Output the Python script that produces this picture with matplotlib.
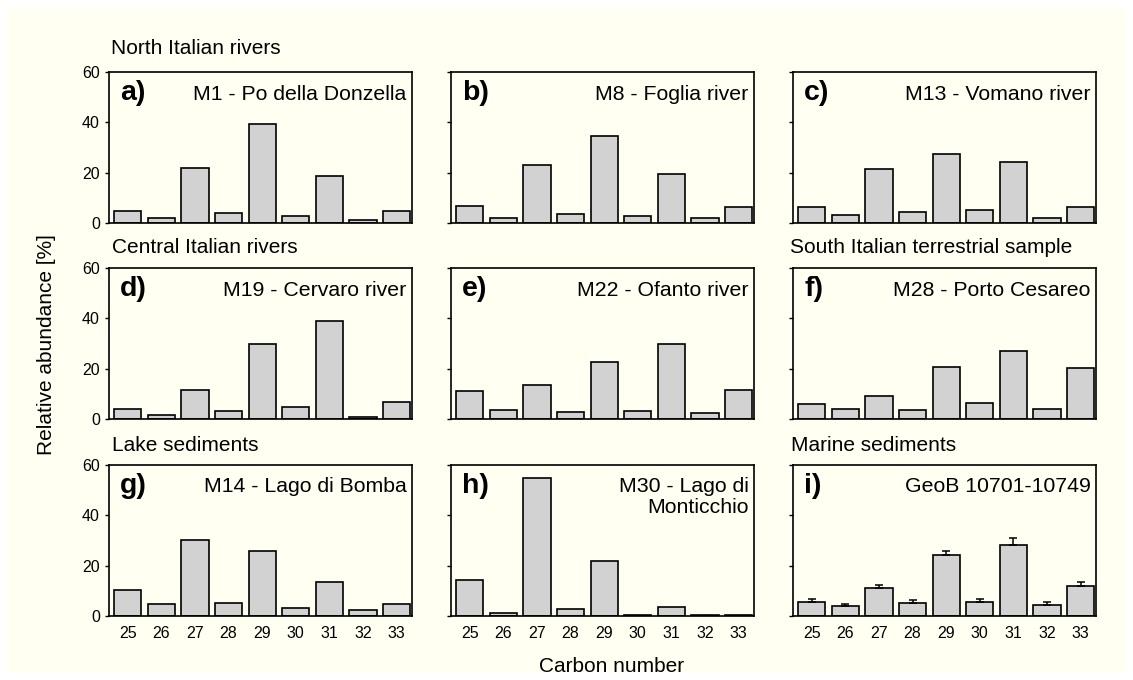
import numpy as np
import matplotlib
matplotlib.use('Agg')
import matplotlib.pyplot as plt
from matplotlib.patches import Rectangle

plt.rcParams['font.family'] = ['Liberation Sans', 'DejaVu Sans']

carbon = [25, 26, 27, 28, 29, 30, 31, 32, 33]

# relative abundance [%] per sample
m1 = [4.9, 2.1, 21.9, 3.9, 39.4, 2.8, 18.5, 1.3, 4.9]
m8 = [6.6, 2.0, 23.2, 3.5, 34.5, 2.8, 19.3, 2.0, 6.4]
m13 = [6.2, 3.3, 21.5, 4.5, 27.4, 5.0, 24.4, 2.0, 6.2]
m19 = [3.9, 1.4, 11.5, 3.1, 29.7, 4.6, 38.8, 0.9, 6.8]
m22 = [11.3, 3.5, 13.5, 2.9, 22.8, 3.0, 29.9, 2.2, 11.4]
m28 = [6.0, 3.9, 9.1, 3.7, 20.5, 6.3, 27.0, 4.1, 20.2]
m14 = [10.3, 4.9, 30.1, 5.1, 25.9, 3.0, 13.6, 2.2, 4.9]
m30 = [14.4, 1.1, 55.0, 2.9, 22.0, 0.5, 3.6, 0.4, 0.4]
geob = [5.7, 3.8, 11.2, 5.0, 24.4, 5.4, 28.4, 4.5, 12.1]
geob_err = [0.9, 0.9, 1.2, 1.2, 1.6, 1.5, 2.6, 1.0, 1.6]

panels = [
    ('a)', 'M1 - Po della Donzella', m1),
    ('b)', 'M8 - Foglia river', m8),
    ('c)', 'M13 - Vomano river', m13),
    ('d)', 'M19 - Cervaro river', m19),
    ('e)', 'M22 - Ofanto river', m22),
    ('f)', 'M28 - Porto Cesareo', m28),
    ('g)', 'M14 - Lago di Bomba', m14),
    ('h)', 'M30 - Lago di\nMonticchio', m30),
    ('i)', 'GeoB 10701-10749', geob),
]

groups = [
    ('North Italian rivers', 111, 54),
    ('Central Italian rivers', 112, 253),
    ('South Italian terrestrial sample', 790, 253),
    ('Lake sediments', 112, 451),
    ('Marine sediments', 791, 451),
]

W, H = 1133, 680
cream = '#FFFFF2'
fig = plt.figure(figsize=(W / 100, H / 100), dpi=100, facecolor='white')
fig.patches.append(Rectangle((7 / W, 7 / H), 1 - 14 / W, 1 - 14 / H,
                             transform=fig.transFigure, facecolor=cream,
                             edgecolor='none', zorder=-10))

col_left = [109, 451, 793]
row_top = [72, 268, 465]
aw, ah = 303, 151

for i, (tag, name, vals) in enumerate(panels):
    r, c = divmod(i, 3)
    x0 = col_left[c]
    y0 = row_top[r]
    ax = fig.add_axes([x0 / W, 1 - (y0 + ah) / H, aw / W, ah / H])
    ax.set_facecolor(cream)
    if tag == 'i)':
        ax.bar(carbon, vals, width=0.81, color='#D2D2D2', edgecolor='black',
               linewidth=1.2, yerr=[np.zeros(len(vals)), geob_err],
               error_kw=dict(ecolor='black', elinewidth=1.1, capsize=3,
                             capthick=1.1))
    else:
        ax.bar(carbon, vals, width=0.81, color='#D2D2D2', edgecolor='black',
               linewidth=1.2)
    ax.set_xlim(24.44, 33.46)
    ax.set_ylim(0, 60)
    ax.set_yticks([0, 20, 40, 60])
    ax.set_xticks(carbon)
    ax.tick_params(axis='y', direction='out', length=3, width=1,
                   labelsize=11.5, pad=3.5, labelleft=(c == 0))
    ax.tick_params(axis='x', length=0, labelsize=11.5, pad=7,
                   labelbottom=(r == 2))
    for s in ax.spines.values():
        s.set_linewidth(1.2)
    ax.annotate(tag, xy=(0, 1), xycoords='axes fraction',
                xytext=(8, -6), textcoords='offset points',
                ha='left', va='top', fontsize=20.5, fontweight='bold')
    ax.annotate(name, xy=(1, 1), xycoords='axes fraction',
                xytext=(-4, -9), textcoords='offset points',
                ha='right', va='top', fontsize=15.3, linespacing=1.1)

for text, x, y in groups:
    fig.text(x / W, 1 - y / H, text, ha='left', va='baseline', fontsize=15)

fig.text(47 / W, 1 - 345 / H, 'Relative abundance [%]', rotation=90,
         ha='center', va='center', fontsize=15)
fig.text(612 / W, 1 - 667 / H, 'Carbon number', ha='center', va='center',
         fontsize=15)

fig.savefig('out.png', dpi=100, facecolor='white')
